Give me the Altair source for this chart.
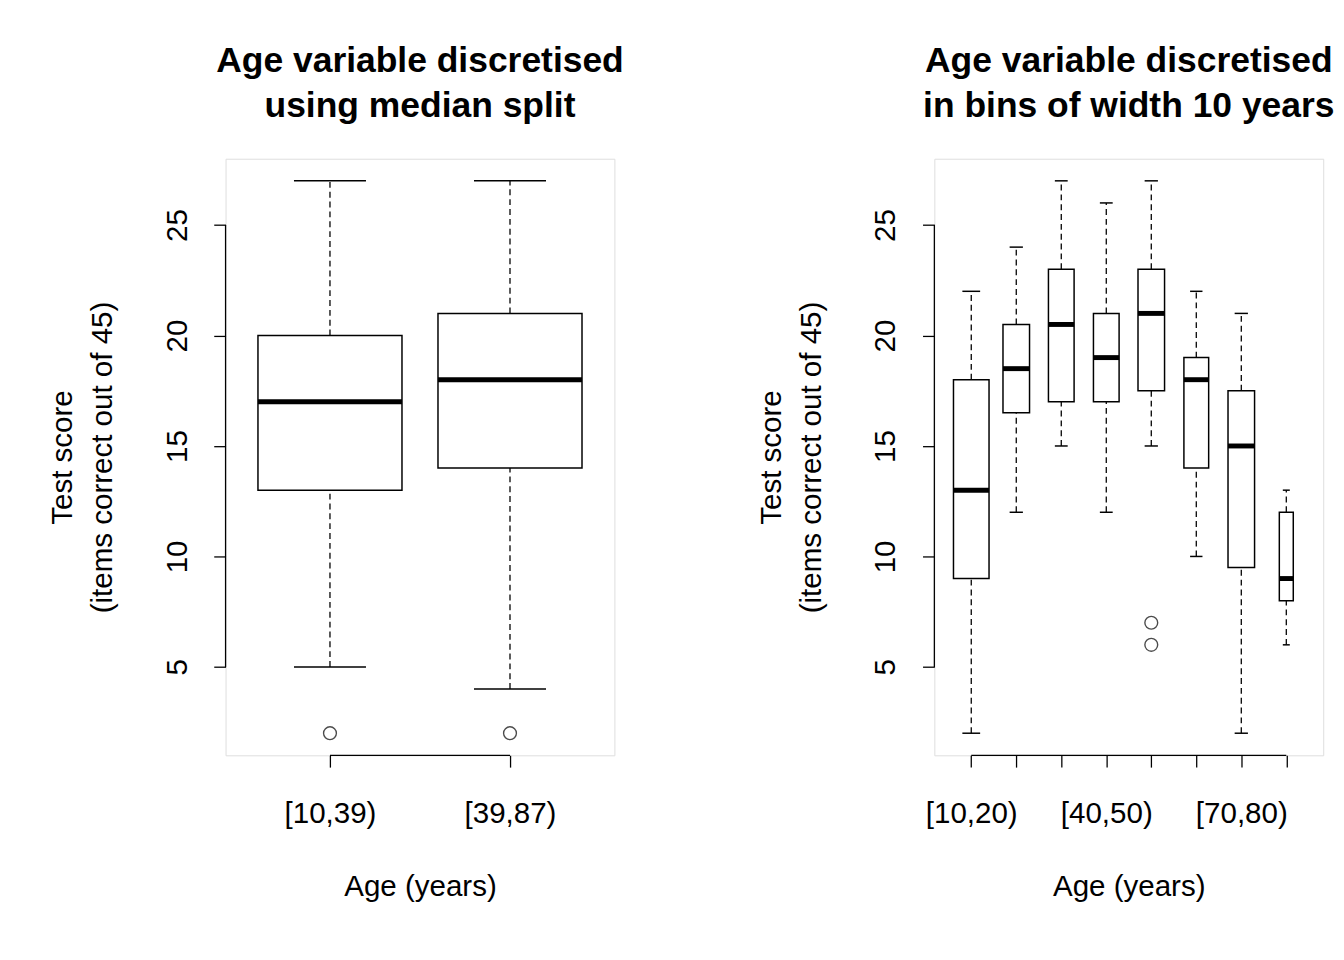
"""Two R-style boxplots of test score by discretised age."""

import pandas as pd
import altair as alt

FONT = "Liberation Sans"

# median split panel
split_labels = ["[10,39)", "[39,87)"]
split_low = [5, 4]
split_q1 = [13, 14]
split_med = [17, 18]
split_q3 = [20, 21]
split_high = [27, 27]
split_width = [0.8, 0.8]
split_out_group = [1, 2]
split_out_value = [2, 2]

# 10-year bins panel
bin_labels = ["[10,20)", "[20,30)", "[30,40)", "[40,50)",
              "[50,60)", "[60,70)", "[70,80)", "[80,90)"]
bin_low = [2, 12, 15, 12, 15, 10, 2, 6]
bin_q1 = [9, 16.5, 17, 17, 17.5, 14, 9.5, 8]
bin_med = [13, 18.5, 20.5, 19, 21, 18, 15, 9]
bin_q3 = [18, 20.5, 23, 21, 23, 19, 17.5, 12]
bin_high = [22, 24, 27, 26, 27, 22, 21, 13]
bin_width = [0.79, 0.59, 0.57, 0.57, 0.59, 0.55, 0.59, 0.31]
bin_out_group = [5, 5]
bin_out_value = [7, 6]
bin_shown = [1, 4, 7]

W, H = 395, 606


def boxplot(labels, low, q1, med, q3, high, width, out_g, out_v, shown, title):
    n = len(labels)
    pos = list(range(1, n + 1))
    df = pd.DataFrame({"pos": pos, "low": low, "q1": q1, "med": med,
                       "q3": q3, "high": high, "w": width})
    df["left"] = df["pos"] - df["w"] / 2
    df["right"] = df["pos"] + df["w"] / 2
    df["capl"] = df["pos"] - df["w"] / 4
    df["capr"] = df["pos"] + df["w"] / 4
    outs = pd.DataFrame({"pos": out_g, "v": out_v})

    pad = 0.04 * n
    xs = alt.Scale(domain=[0.5 - pad, n + 0.5 + pad], nice=False, zero=False)
    ys = alt.Scale(domain=[1, 28], nice=False, zero=False)

    label_map = "{" + ",".join(
        f"'{p}':'{labels[p - 1]}'" for p in shown) + "}"
    x_axis = alt.Axis(values=pos, title="Age (years)", domain=False, grid=False,
                      labelExpr=f"{label_map}[datum.value] || ''",
                      tickSize=12, tickColor="black", tickWidth=1.3,
                      labelPadding=32, titlePadding=44, labelFontSize=30,
                      titleFontSize=30, titleFontWeight="normal",
                      labelColor="black", titleColor="black", labelFont=FONT,
                      titleFont=FONT)
    y_axis = alt.Axis(values=[5, 10, 15, 20, 25], domain=False, grid=False,
                      title=["Test score", "(items correct out of 45)"],
                      labelAngle=270, labelAlign="center", labelBaseline="bottom",
                      tickSize=12, tickColor="black", tickWidth=1.3,
                      labelPadding=22, titlePadding=46, labelFontSize=30,
                      titleFontSize=30, titleFontWeight="normal",
                      titleLineHeight=40,
                      labelColor="black", titleColor="black", labelFont=FONT,
                      titleFont=FONT)

    base = alt.Chart(df)
    whisk_lo = base.mark_rule(color="black", strokeDash=[6, 4], strokeWidth=1.3).encode(
        x=alt.X("pos:Q", scale=xs, axis=x_axis),
        y=alt.Y("low:Q", scale=ys, axis=y_axis), y2="q1:Q")
    whisk_hi = base.mark_rule(color="black", strokeDash=[6, 4], strokeWidth=1.3).encode(
        x="pos:Q", y="q3:Q", y2="high:Q")
    cap_lo = base.mark_rule(color="black", strokeWidth=1.5).encode(
        x="capl:Q", x2="capr:Q", y="low:Q")
    cap_hi = base.mark_rule(color="black", strokeWidth=1.5).encode(
        x="capl:Q", x2="capr:Q", y="high:Q")
    box = base.mark_rect(fill="white", stroke="black", strokeWidth=1.5).encode(
        x="left:Q", x2="right:Q", y="q1:Q", y2="q3:Q")
    median = base.mark_rule(color="black", strokeWidth=5).encode(
        x="left:Q", x2="right:Q", y="med:Q")
    points = alt.Chart(outs).mark_point(
        shape="circle", filled=False, color="black", size=170, strokeWidth=1.4
    ).encode(x="pos:Q", y="v:Q")
    yline = alt.Chart(pd.DataFrame({"a": [5], "b": [25]})).mark_rule(
        color="black", strokeWidth=1.3).encode(x=alt.value(0), y="a:Q", y2="b:Q")
    xline = alt.Chart(pd.DataFrame({"a": [1], "b": [n]})).mark_rule(
        color="black", strokeWidth=1.3).encode(y=alt.value(H), x="a:Q", x2="b:Q")

    return alt.layer(whisk_lo, whisk_hi, cap_lo, cap_hi, box, median, points,
                     yline, xline).properties(
        width=W, height=H,
        title=alt.TitleParams(title, font=FONT, fontSize=36, fontWeight="bold",
                              anchor="middle", offset=34, color="black",
                              lineHeight=46, baseline="top"))


left = boxplot(split_labels, split_low, split_q1, split_med, split_q3,
               split_high, split_width, split_out_group, split_out_value,
               [1, 2], ["Age variable discretised", "using median split"])
right = boxplot(bin_labels, bin_low, bin_q1, bin_med, bin_q3, bin_high,
                bin_width, bin_out_group, bin_out_value, bin_shown,
                ["Age variable discretised", "in bins of width 10 years"])

chart = alt.hconcat(left, right, spacing=133).configure_view(
    strokeWidth=0).configure(padding={"left": 40, "top": 28, "right": 0, "bottom": 0},
                             background="white")

chart.save("out.html", embed_options={"renderer": "svg", "actions": False})
